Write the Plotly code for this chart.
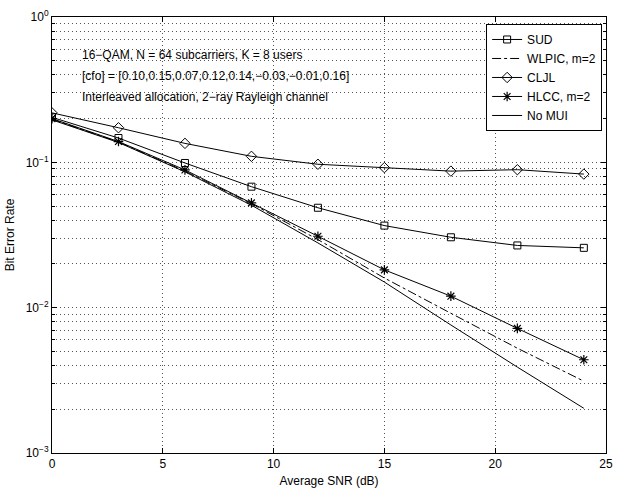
import plotly.graph_objects as go

# ---- data ----
snr = [0, 3, 6, 9, 12, 15, 18, 21, 24]
ber_sud = [0.204, 0.147, 0.099, 0.068, 0.0487, 0.0367, 0.0305, 0.0268, 0.0258]
ber_wlpic = [0.198, 0.138, 0.087, 0.052, 0.0294, 0.0160, 0.00915, 0.00526, 0.00312]
ber_cljl = [0.219, 0.173, 0.135, 0.110, 0.097, 0.092, 0.087, 0.089, 0.083]
ber_hlcc = [0.200, 0.139, 0.0887, 0.0526, 0.0310, 0.0182, 0.0120, 0.00720, 0.00438]
ber_nomui = [0.196, 0.137, 0.086, 0.0507, 0.0279, 0.0150, 0.0076, 0.0039, 0.00203]

x_ticks = [0, 5, 10, 15, 20, 25]
y_tickvals = [1e-3, 1e-2, 1e-1, 1]
y_ticktext = ["10<sup>\u22123</sup>", "10<sup>\u22122</sup>", "10<sup>\u22121</sup>", "10<sup>0</sup>"]
y_minor = [k * 10.0 ** e for e in (-3, -2, -1) for k in range(2, 10)]

notes = [
    "16\u2212QAM, N = 64 subcarriers, K = 8 users",
    "[cfo] = [0.10,0.15,0.07,0.12,0.14,\u22120.03,\u22120.01,0.16]",
    "Interleaved allocation, 2\u2212ray Rayleigh channel",
]

FONT = "Liberation Sans, Arial, Helvetica, sans-serif"
BLACK = "black"
GRID = "#555555"
DOT = "1px,3px"

fig = go.Figure()
fig.add_trace(go.Scatter(x=snr, y=ber_sud, name="SUD", mode="lines+markers",
                         line=dict(color=BLACK, width=1),
                         marker=dict(symbol="square-open", size=7, color=BLACK, line=dict(width=1, color=BLACK))))
fig.add_trace(go.Scatter(x=snr, y=ber_wlpic, name="WLPIC, m=2", mode="lines",
                         line=dict(color=BLACK, width=1, dash="dashdot")))
fig.add_trace(go.Scatter(x=snr, y=ber_cljl, name="CLJL", mode="lines+markers",
                         line=dict(color=BLACK, width=1),
                         marker=dict(symbol="diamond-open", size=8, color=BLACK, line=dict(width=1, color=BLACK))))
fig.add_trace(go.Scatter(x=snr, y=ber_hlcc, name="HLCC, m=2", mode="lines+markers",
                         line=dict(color=BLACK, width=1),
                         marker=dict(symbol="asterisk-open", size=8, color=BLACK, line=dict(width=1.2, color=BLACK))))
fig.add_trace(go.Scatter(x=snr, y=ber_nomui, name="No MUI", mode="lines",
                         line=dict(color=BLACK, width=1)))

y_positions = [0.9135, 0.8652, 0.8169]
for txt, yp in zip(notes, y_positions):
    fig.add_annotation(text=txt, xref="paper", yref="paper", x=0.051, y=yp,
                       xanchor="left", yanchor="middle", showarrow=False,
                       font=dict(size=12, color=BLACK, family=FONT))

fig.update_layout(
    width=621, height=494,
    margin=dict(l=52, r=8, t=10, b=39),
    paper_bgcolor="white", plot_bgcolor="white",
    font=dict(family=FONT, size=12, color=BLACK),
    showlegend=True,
    legend=dict(x=0.993, y=0.984, xanchor="right", yanchor="top",
                bordercolor=BLACK, borderwidth=1, bgcolor="white",
                font=dict(size=12, family=FONT), tracegroupgap=0),
    xaxis=dict(range=[0, 25], tickvals=x_ticks, ticks="inside", ticklen=5, tickcolor=BLACK,
               showline=True, linecolor=BLACK, linewidth=1, mirror="allticks",
               showgrid=True, gridcolor=GRID, griddash=DOT, gridwidth=1, zeroline=False,
               title=dict(text="Average SNR (dB)", standoff=6, font=dict(size=12)),
               tickfont=dict(size=12)),
    yaxis=dict(type="log", range=[-3, 0], tickvals=y_tickvals, ticktext=y_ticktext,
               ticks="inside", ticklen=5, tickcolor=BLACK,
               showline=True, linecolor=BLACK, linewidth=1, mirror="allticks",
               showgrid=True, gridcolor=GRID, griddash=DOT, gridwidth=1, zeroline=False,
               minor=dict(tickvals=y_minor, ticks="inside", ticklen=3, tickcolor=BLACK,
                          showgrid=True, gridcolor=GRID, griddash=DOT, gridwidth=1),
               title=dict(text="Bit Error Rate", standoff=8, font=dict(size=12)),
               tickfont=dict(size=12)),
)

fig.write_html("out.html")
